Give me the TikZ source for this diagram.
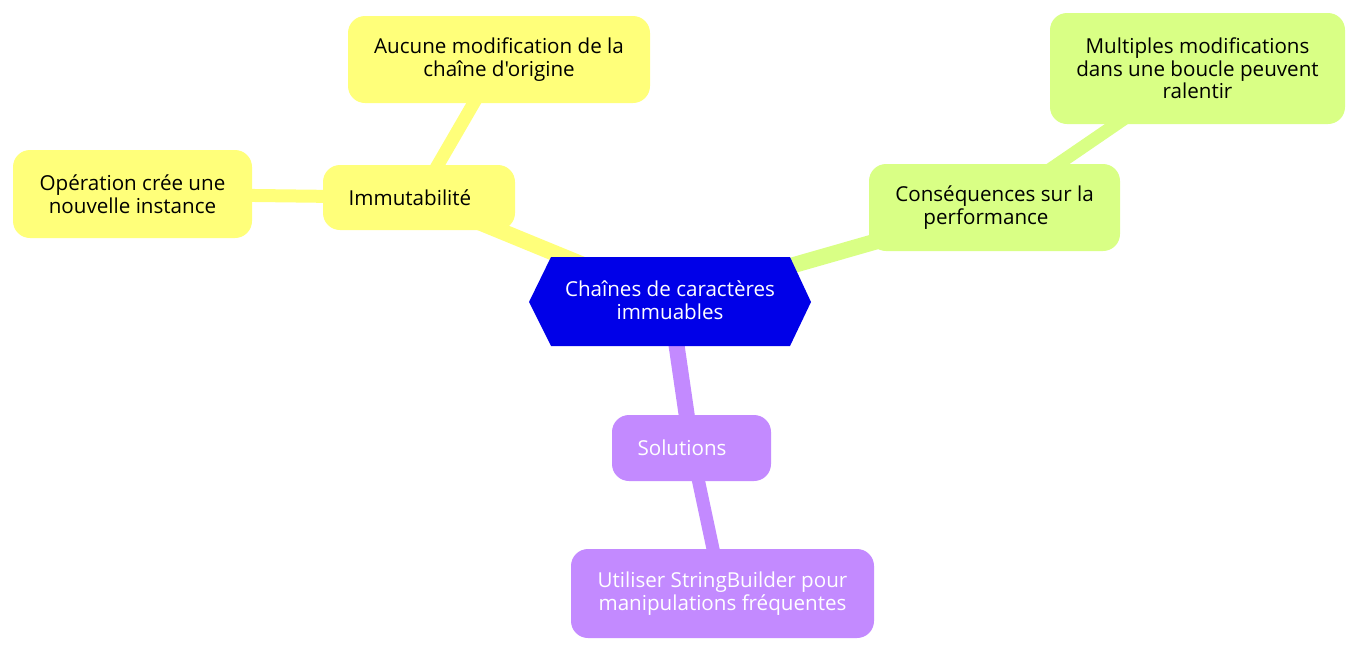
\documentclass[tikz,border=0pt]{standalone}
\usepackage{fontspec}
\setmainfont{Open Sans}[Ligatures=TeXOff]
\usetikzlibrary{backgrounds}
\definecolor{yel}{RGB}{255,255,122}
\definecolor{grn}{RGB}{217,255,133}
\definecolor{pur}{RGB}{195,138,255}
\definecolor{rootblue}{RGB}{0,0,232}
\begin{document}
\begin{tikzpicture}[x=1pt,y=-1pt,
  every node/.style={font=\fontsize{20.6}{22.7}\selectfont},
  box/.style={rectangle, rounded corners=17pt, inner sep=0pt, align=center},
  ybox/.style={box, fill=yel, text=black},
  gbox/.style={box, fill=grn, text=black},
  pbox/.style={box, fill=pur, text=white},
  lvlone/.style={line width=16pt},
  lvltwo/.style={line width=13pt}]
\useasboundingbox (0,0) rectangle (1359,651);
% root hexagon
\fill[rootblue] (529,302) -- (551,257) -- (790,257) -- (811,302) -- (790,346) -- (551,346) -- cycle;
\node[text=white, align=center] (root) at (670,300.5) {Chaînes de caractères\\immuables};
% yellow branch
\node[ybox, minimum width=192pt, minimum height=65pt] (imm) at (419,197.5) {Immutabilité\hspace{18pt}};
\node[ybox, minimum width=302pt, minimum height=87pt] (auc) at (499,59.5) {Aucune modification de la\\chaîne d'origine};
\node[ybox, minimum width=239pt, minimum height=88pt] (ope) at (132.5,194) {Opération crée une\\nouvelle instance};
% green branch
\node[gbox, minimum width=251pt, minimum height=87pt] (cons) at (994.5,207.5) {Conséquences sur la\\performance\rule{17pt}{0pt}};
\node[gbox, minimum width=295pt, minimum height=111pt] (mult) at (1197.5,68.5) {Multiples modifications\\dans une boucle peuvent\\ralentir};
% purple branch
\node[pbox, minimum width=159pt, minimum height=66pt] (sol) at (691.5,448) {Solutions\hspace{19pt}};
\node[pbox, minimum width=303pt, minimum height=89pt] (sb) at (722.5,593.5) {Utiliser StringBuilder pour\\manipulations fréquentes};
\begin{scope}[on background layer]
  \draw[lvlone, yel] (root.center) -- (imm.center);
  \draw[lvltwo, yel] (imm.center) -- (auc.center);
  \draw[lvltwo, yel] (imm.center) -- (ope.center);
  \draw[lvlone, grn] (root.center) -- (cons.center);
  \draw[lvltwo, grn] (cons.center) -- (mult.center);
  \draw[lvlone, pur] (root.center) -- (sol.center);
  \draw[lvltwo, pur] (sol.center) -- (sb.center);
\end{scope}
\end{tikzpicture}
\end{document}
